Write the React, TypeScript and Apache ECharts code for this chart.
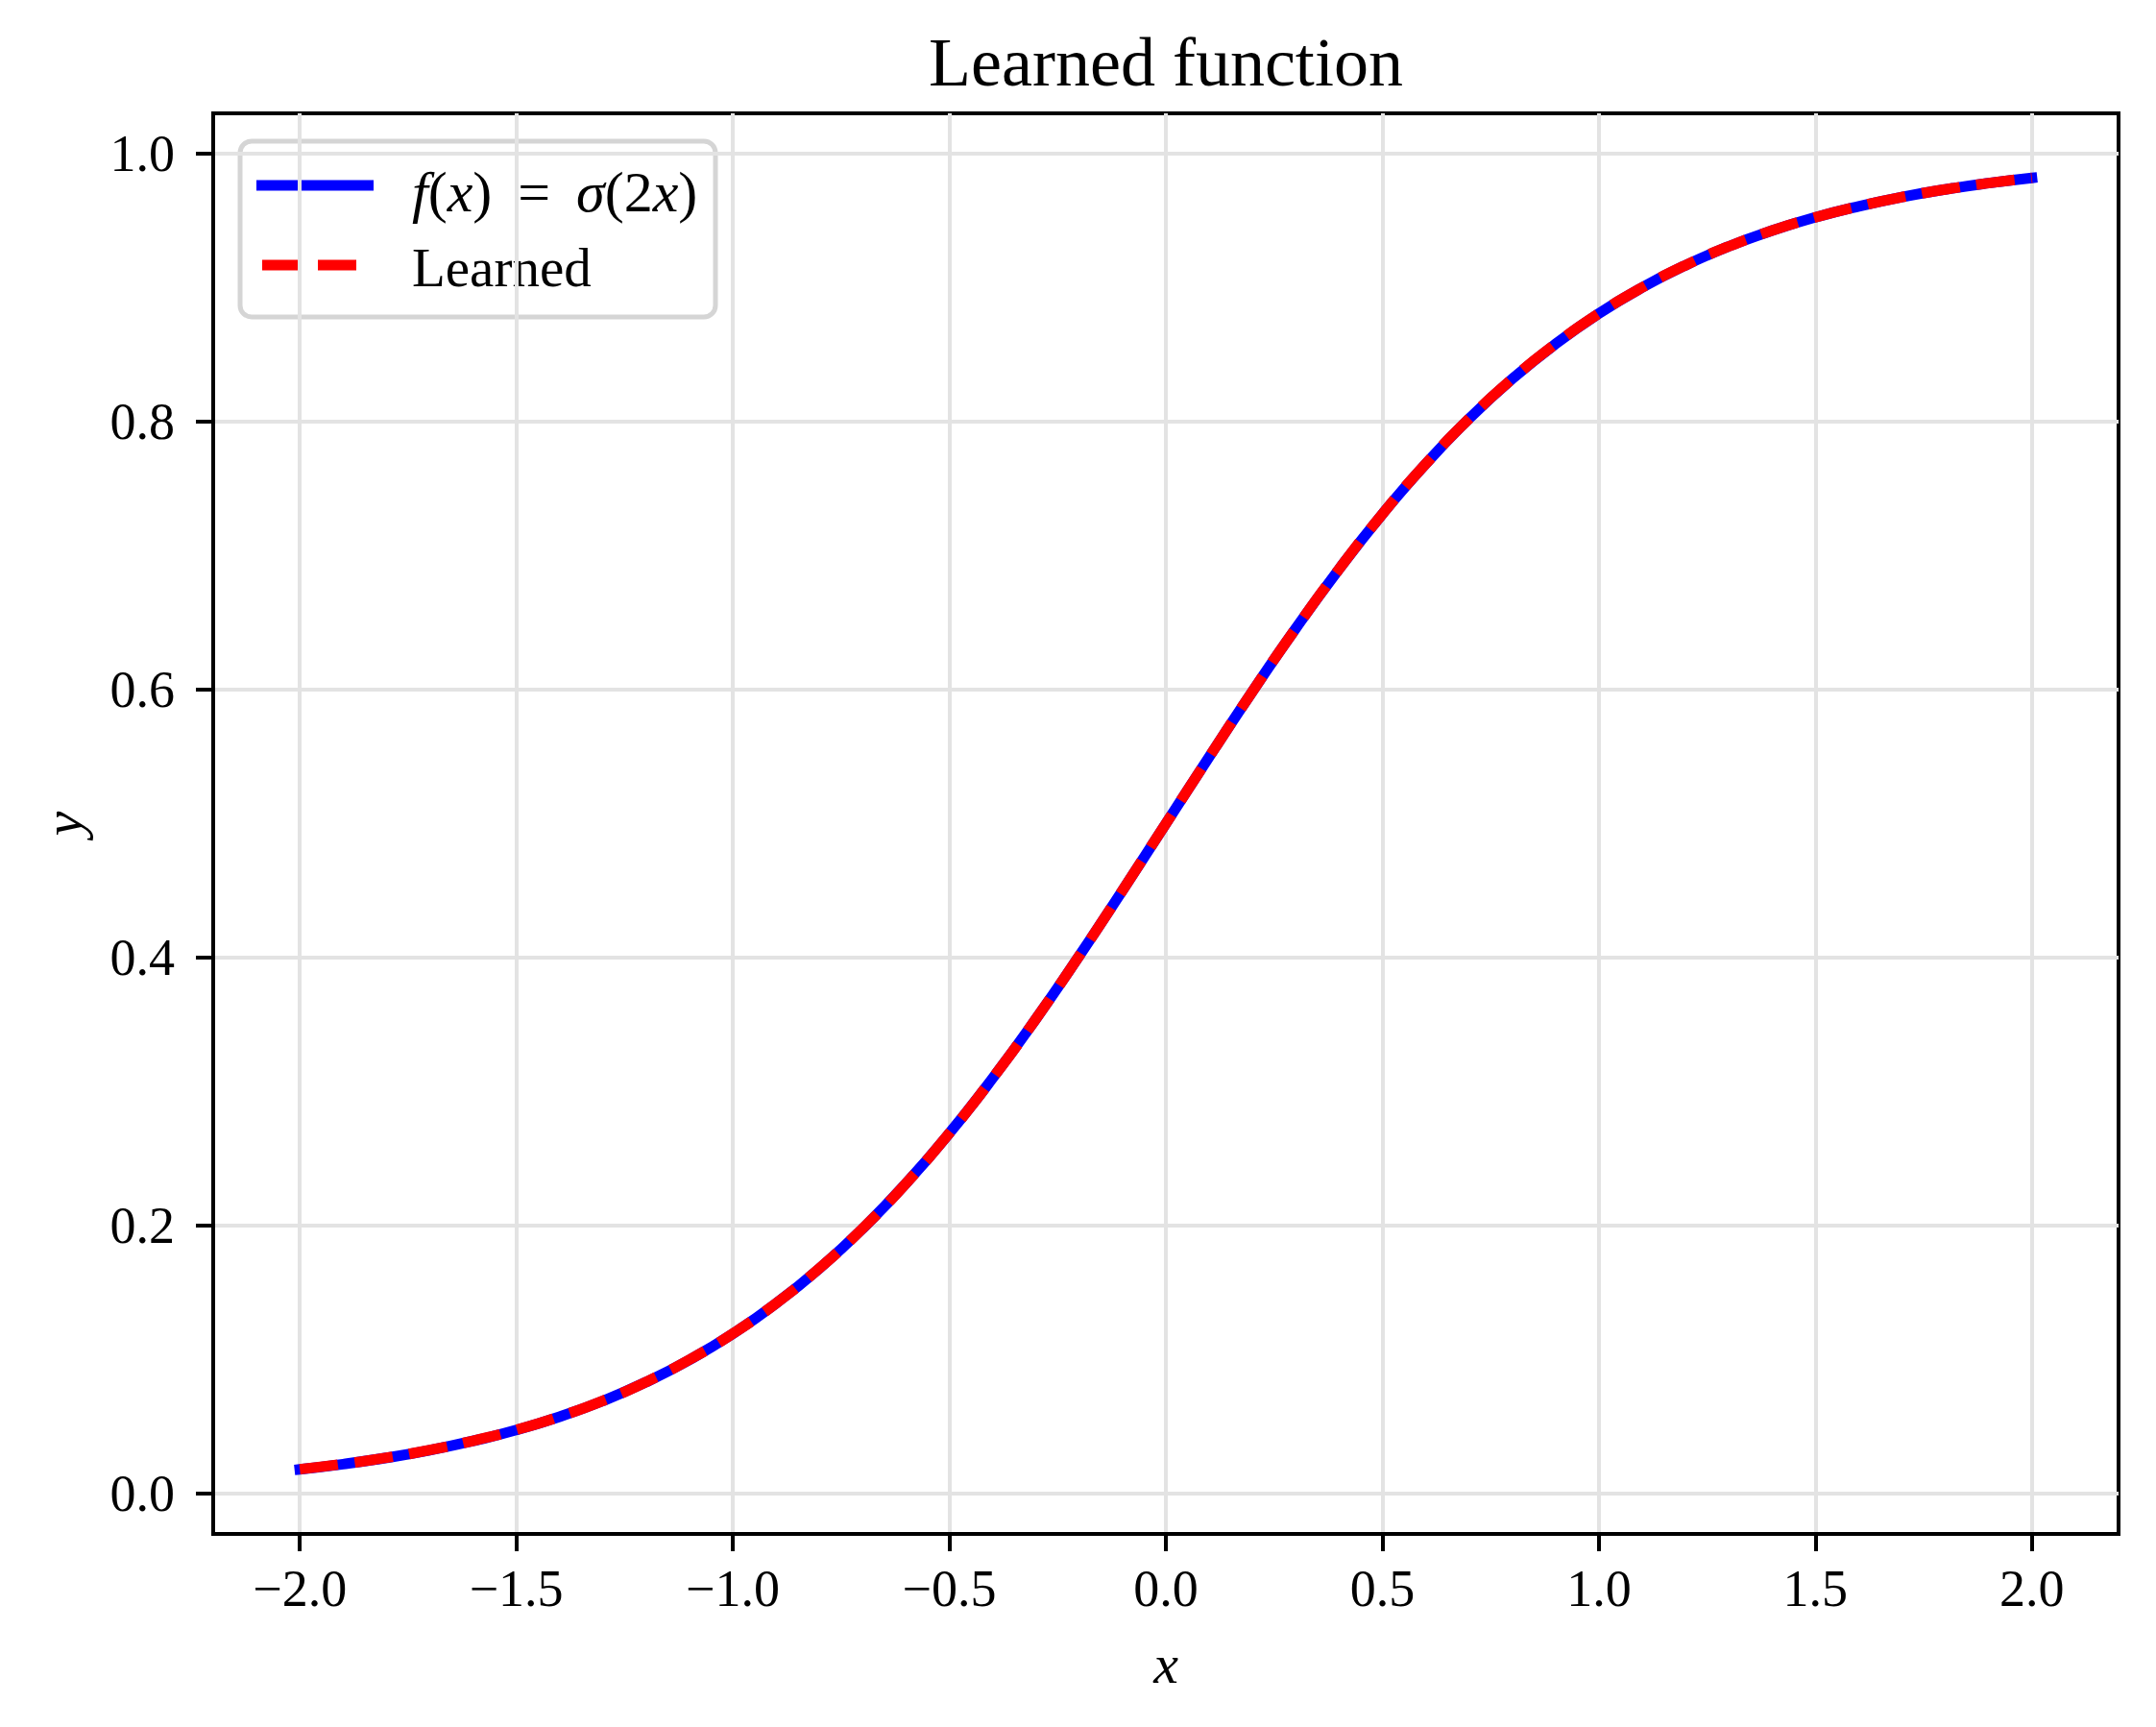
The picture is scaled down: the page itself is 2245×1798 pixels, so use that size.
import React, { useEffect, useRef } from "react";
import * as echarts from "echarts";

const xValues = [
  -2.0, -1.9, -1.8, -1.7, -1.6, -1.5, -1.4, -1.3, -1.2, -1.1, -1.0, -0.9, -0.8, -0.7,
  -0.6, -0.5, -0.4, -0.3, -0.2, -0.1, 0.0, 0.1, 0.2, 0.3, 0.4, 0.5, 0.6, 0.7, 0.8, 0.9,
  1.0, 1.1, 1.2, 1.3, 1.4, 1.5, 1.6, 1.7, 1.8, 1.9, 2.0,
];
const trueValues = [
  0.018, 0.0219, 0.0266, 0.0323, 0.0392, 0.0474, 0.0573, 0.0691, 0.0832, 0.0998, 0.1192,
  0.1419, 0.168, 0.1978, 0.2315, 0.2689, 0.31, 0.3543, 0.4013, 0.4502, 0.5, 0.5498,
  0.5987, 0.6457, 0.69, 0.7311, 0.7685, 0.8022, 0.832, 0.8581, 0.8808, 0.9002, 0.9168,
  0.9309, 0.9427, 0.9526, 0.9608, 0.9677, 0.9734, 0.9781, 0.982,
];
const learnedValues = [
  0.0181, 0.022, 0.0267, 0.0324, 0.0393, 0.0475, 0.0574, 0.0692, 0.0833, 0.0999, 0.1193,
  0.142, 0.1681, 0.1979, 0.2315, 0.2689, 0.31, 0.3543, 0.4013, 0.4502, 0.5, 0.5498,
  0.5987, 0.6457, 0.69, 0.7311, 0.7685, 0.8022, 0.832, 0.8581, 0.8808, 0.9002, 0.9168,
  0.9309, 0.9427, 0.9526, 0.9608, 0.9677, 0.9734, 0.9781, 0.982,
];
const xTicks = [-2.0, -1.5, -1.0, -0.5, 0.0, 0.5, 1.0, 1.5, 2.0];
const yTicks = [0.0, 0.2, 0.4, 0.6, 0.8, 1.0];
const titleText = "Learned function";
const seriesNames = ["f(x) = σ(2x)", "Learned"];

const FONT = "'Liberation Serif', 'DejaVu Serif', serif";

const fmt = (v: number) => (v < 0 ? "\u2212" + Math.abs(v).toFixed(1) : v.toFixed(1));

export default function App() {
  const ref = useRef<HTMLDivElement>(null);
  useEffect(() => {
    if (!ref.current) return;
    const chart = echarts.init(ref.current, undefined, { renderer: "svg" });
    const trueData = xValues.map((x, i) => [x, trueValues[i]]);
    const learnedData = xValues.map((x, i) => [x, learnedValues[i]]);
    const gridLine = { show: true, lineStyle: { color: "#e3e3e3", width: 4 } };
    const option: any = {
      animation: false,
      backgroundColor: "#ffffff",
      title: {
        text: titleText,
        left: 1209,
        top: 24,
        textAlign: "center",
        textStyle: { fontFamily: FONT, fontSize: 72, fontWeight: "normal", color: "#000" },
      },
      grid: {
        left: 222,
        right: 39,
        top: 118,
        bottom: 201,
        containLabel: false,
        outerBoundsMode: "none",
        show: true,
        borderColor: "#000",
        borderWidth: 4,
        backgroundColor: "#fff",
      },
      xAxis: {
        type: "value",
        min: -2.2,
        max: 2.2,
        splitNumber: 9,
        name: "x",
        nameLocation: "middle",
        nameGap: 106,
        nameTextStyle: { fontFamily: FONT, fontSize: 58, fontStyle: "italic", color: "#000" },
        axisLine: { show: true, onZero: false, lineStyle: { color: "#000", width: 4 } },
        axisTick: {
          show: true,
          inside: false,
          length: 18,
          lineStyle: { color: "#000", width: 4 },
          customValues: xTicks,
        },
        axisLabel: {
          show: true,
          margin: 30,
          fontFamily: FONT,
          fontSize: 54,
          color: "#000",
          customValues: xTicks,
          formatter: (v: number) => fmt(v),
        },
        splitLine: gridLine,
      },
      yAxis: {
        type: "value",
        min: -0.0302,
        max: 1.0302,
        splitNumber: 5,
        name: "y",
        nameLocation: "middle",
        nameGap: 128,
        nameRotate: 90,
        nameTextStyle: { fontFamily: FONT, fontSize: 58, fontStyle: "italic", color: "#000" },
        axisLine: { show: true, onZero: false, lineStyle: { color: "#000", width: 4 } },
        axisTick: {
          show: true,
          inside: false,
          length: 18,
          lineStyle: { color: "#000", width: 4 },
          customValues: yTicks,
        },
        axisLabel: {
          show: true,
          margin: 40,
          fontFamily: FONT,
          fontSize: 54,
          color: "#000",
          customValues: yTicks,
          formatter: (v: number) => fmt(v),
        },
        splitLine: gridLine,
      },
      series: [
        {
          name: seriesNames[0],
          type: "line",
          data: trueData,
          showSymbol: false,
          symbol: "none",
          smooth: true,
          lineStyle: { color: "#0000ff", width: 11, cap: "square", join: "round" },
          z: 2,
        },
        {
          name: seriesNames[1],
          type: "line",
          data: learnedData,
          showSymbol: false,
          symbol: "none",
          smooth: true,
          lineStyle: { color: "#ff0000", width: 11, type: [40, 17.5], cap: "butt", join: "round" },
          z: 3,
        },
      ],
      graphic: [
        {
          type: "group",
          z: 100,
          children: [
            {
              type: "rect",
              shape: { x: 250, y: 147, width: 495, height: 183, r: 12 },
              style: { fill: "rgba(255,255,255,0.8)", stroke: "#d5d5d5", lineWidth: 5 },
            },
            {
              type: "line",
              shape: { x1: 267, y1: 193, x2: 389, y2: 193 },
              style: { stroke: "#0000ff", lineWidth: 11, lineCap: "butt" },
            },
            {
              type: "line",
              shape: { x1: 273, y1: 276, x2: 383, y2: 276 },
              style: { stroke: "#ff0000", lineWidth: 11, lineCap: "butt", lineDash: [40, 18] },
            },
            {
              type: "text",
              x: 429,
              y: 200,
              style: {
                text: "{i|f}{n|(}{i|x}{n|) \u2009= \u2009}{i|σ}{n|(2}{i|x}{n|)}",
                verticalAlign: "middle",
                align: "left",
                fill: "#000",
                fontFamily: FONT,
                fontSize: 60,
                rich: {
                  i: { fontFamily: FONT, fontSize: 60, fontStyle: "italic", fill: "#000", color: "#000" },
                  n: { fontFamily: FONT, fontSize: 60, fill: "#000", color: "#000" },
                },
              },
            },
            {
              type: "text",
              x: 429,
              y: 278,
              style: {
                text: seriesNames[1],
                verticalAlign: "middle",
                align: "left",
                fill: "#000",
                fontFamily: FONT,
                fontSize: 57,
              },
            },
          ],
        },
      ],
    };
    chart.setOption(option);
    return () => chart.dispose();
  }, []);
  return (
    <div
      ref={ref}
      style={{ position: "fixed", left: 0, top: 0, width: 2245, height: 1798, background: "#fff" }}
    />
  );
}
